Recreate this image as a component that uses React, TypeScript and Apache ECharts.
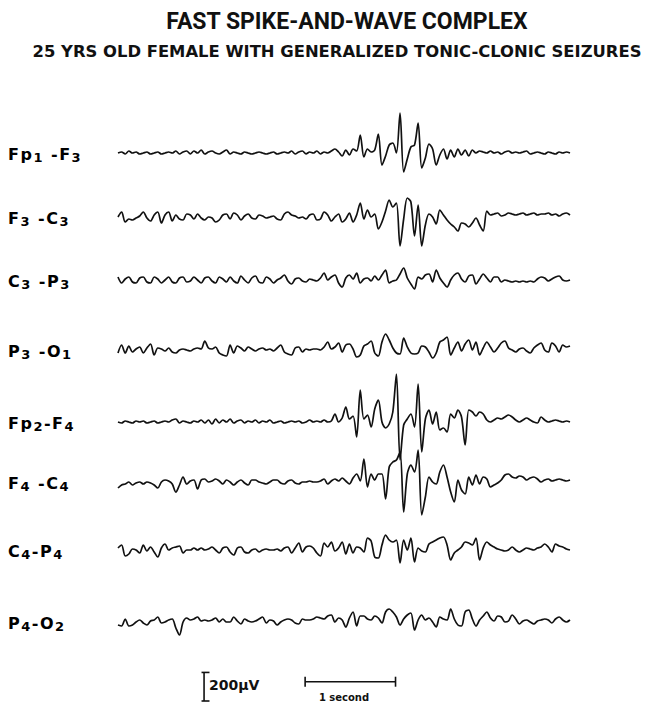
import React, { useEffect, useRef } from "react";
import * as echarts from "echarts";

// ---------------- data (µV, positive = upward pen deflection) ----------------
const TITLE = "FAST SPIKE-AND-WAVE COMPLEX";
const SUBTITLE = "25 YRS OLD FEMALE WITH GENERALIZED TONIC-CLONIC SEIZURES";
const CHANNELS = ["Fp1-F3", "F3-C3", "C3-P3", "P3-O1", "Fp2-F4", "F4-C4", "C4-P4", "P4-O2"];
// label text split in [text, isSubscript]
const CHANNEL_LABEL_PARTS: [string, number][][] = [
  [["Fp", 0], ["1", 1], [" -F", 0], ["3", 1]],
  [["F", 0], ["3", 1], [" -C", 0], ["3", 1]],
  [["C", 0], ["3", 1], [" -P", 0], ["3", 1]],
  [["P", 0], ["3", 1], [" -O", 0], ["1", 1]],
  [["Fp", 0], ["2", 1], ["-F", 0], ["4", 1]],
  [["F", 0], ["4", 1], [" -C", 0], ["4", 1]],
  [["C", 0], ["4", 1], ["-P", 0], ["4", 1]],
  [["P", 0], ["4", 1], ["-O", 0], ["2", 1]],
];
const SAMPLE_STEP_S = 0.04; // one sample every 40 ms, 5 s of record
const RECORD_S = 5;

const FP1_F3 = [
  0, 7, -7, 14, 0, 7, -7, 0, 7, -7,
  0, 7, -7, 0, 7, 0, 14, -7, 7, 14,
  -7, 14, 0, 21, -7, 7, 14, 0, -7, 7,
  21, -7, 7, 0, -7, 7, 0, -7, 0, 7,
  0, -7, 0, 7, -7, 0, 7, 0, 14, -7,
  7, 14, -7, 7, 0, 14, -7, 7, 0, 14,
  28, 7, -21, 21, -14, 28, 14, 126, -28, 28,
  7, 21, 133, -84, -21, 56, 70, 0, 280, -133,
  -42, 42, 56, 210, -105, -35, 63, 28, -84, -14,
  28, -42, 21, -28, 28, -14, 21, -21, 21, 0,
  14, 7, 0, 14, 0, 7, -7, 7, 14, 0,
  7, 0, 7, 14, -7, 0, 7, 0, -7, 7,
  0, -7, 7, 0, 7, 0,
];
const F3_C3 = [
  0, 35, -35, -14, -21, -7, 7, 35, -7, -28,
  14, 35, -42, 14, 35, -28, 14, -14, -21, 21,
  14, -14, 21, -7, -21, 0, -7, -35, -21, 14,
  21, -14, 28, 14, -21, 7, 21, -7, -14, 14,
  7, -7, 0, 7, -14, -21, 21, 35, 14, 7,
  -7, 0, -14, 14, 21, -21, -14, 35, 14, -28,
  0, 21, -35, -14, 28, -35, 14, 98, -14, 49,
  0, 21, -84, -35, 42, 119, 70, 98, -203, -14,
  133, 105, -133, 84, -203, -56, 21, 0, -49, 49,
  14, -21, -49, -70, -98, -42, -49, -70, -42, -7,
  -56, -98, 42, 14, 21, 28, 7, 14, 28, 21,
  14, 21, 28, 14, 21, 28, 14, 21, 21, 28,
  14, 21, 7, 21, 28, 14,
];
const C3_P3 = [
  21, -21, 7, 21, -14, -21, 14, 21, -14, -21,
  21, 7, -21, 0, 21, -14, -21, 14, 21, -14,
  -7, 21, 0, -21, 14, 21, -7, -21, 21, 7,
  -14, 21, -7, -21, 28, 0, -21, 14, 28, -14,
  -21, 21, 7, -21, 0, 14, 35, -7, -28, 7,
  14, -7, -14, 7, 0, -7, 14, 49, 0, 21,
  35, -21, -49, 14, 35, 7, 49, -21, 7, 14,
  -7, 28, 0, 35, 70, -21, -7, 0, 42, 84,
  14, -28, -63, 21, 7, 35, 42, -14, 70, 14,
  -21, -49, 0, 35, 49, 7, -14, 28, 35, -28,
  7, 42, 14, -14, 21, 21, -14, 0, -7, -14,
  -7, -14, -7, -14, -7, -14, 7, 21, 14, -7,
  7, 21, 28, 0, -7, 0,
];
const P3_O1 = [
  -21, 35, -21, 28, -14, 7, 21, -21, 14, 42,
  -35, 14, 7, -7, 14, -14, -21, 0, 7, 0,
  -7, 7, 14, 7, 63, 14, 7, 21, -21, -35,
  -42, 35, -21, 28, 14, -7, 21, 7, -7, 7,
  14, 0, 7, -7, 14, 35, -14, -28, -35, 14,
  21, -14, 7, 0, 7, 7, 0, 21, 56, 7,
  21, 49, -14, 35, 42, 7, -49, -35, 28, 42,
  63, -21, -42, 56, 112, 70, 14, -21, -28, 84,
  21, -21, -28, -21, 28, 21, -14, -56, -21, 56,
  70, 91, -35, 14, 56, -7, 42, 70, 0, 56,
  -35, 14, 56, 21, -14, 14, 49, 63, 14, 0,
  -14, 7, 14, -7, -21, 14, 35, 49, 0, -14,
  49, 28, -14, 35, 21, 28,
];
const FP2_F4 = [
  0, -7, 7, 0, -7, 7, 0, 7, -7, 0,
  7, -7, 0, 7, 0, 14, 21, -7, 7, 0,
  -7, 7, 0, 14, -7, 14, -14, 21, -7, 14,
  0, 21, -7, 7, 14, -7, 7, 0, 14, -7,
  7, 0, 14, -7, 0, 7, -7, 0, 7, 0,
  7, -7, 0, 14, 0, 7, 0, 14, 0, 7,
  56, 0, 28, 105, 21, 42, -105, 224, 21, 49,
  -35, 91, 154, 0, -42, -14, 70, 336, -266, -21,
  21, 56, -35, 266, -210, 21, 84, -14, 70, -56,
  -42, -70, 56, 28, 84, 35, -161, 84, 70, 42,
  70, 56, 14, 0, 14, 28, 21, 35, 49, 35,
  14, 0, 14, 28, 14, 0, -7, 35, 14, 0,
  7, 14, 7, 0, 7, 0,
];
const F4_C4 = [
  -42, -21, -14, 0, -21, -7, 0, -14, 0, -7,
  -21, -42, 0, 14, 7, -14, -70, -21, 35, -14,
  7, 14, -49, 14, 21, 0, 7, 21, 7, -14,
  14, 0, -21, 0, 14, -7, -21, 14, 14, 0,
  -7, -14, 0, 14, 14, -7, -14, 7, 14, -7,
  -14, 0, 0, 7, 0, 0, 7, 21, -14, 7,
  21, 7, 28, 7, -14, 28, 56, 7, 161, -35,
  56, 14, 56, 56, -119, 105, 140, 154, 210, -210,
  56, 119, 70, 224, -231, -105, 35, 0, -14, 70,
  119, 35, -70, -140, 14, -56, -84, 35, -21, 49,
  -14, 35, 21, -35, -21, -7, 14, 49, 56, 35,
  28, 42, 35, 14, 28, 35, 21, 0, 14, 21,
  7, 14, 21, 14, 7, 14,
];
const C4_P4 = [
  14, 35, -42, -28, 7, 0, -21, 35, -7, 21,
  -14, -49, 14, 42, 0, 14, 21, 28, -21, 0,
  0, 14, 0, 14, 0, 7, 21, 0, -21, 14,
  21, -14, -35, 14, 21, -14, -21, 0, 7, -14,
  0, 7, 0, 0, 7, -7, 14, 21, -21, 14,
  49, -14, 21, 28, 14, -21, -42, 49, 21, 56,
  -7, 14, 56, -28, 42, -21, 21, 14, -14, 84,
  63, -49, -56, 35, 105, 70, 56, 70, -91, 70,
  0, 84, -84, 14, -7, -14, 42, 56, 70, 84,
  91, 35, -70, -21, 0, 21, 56, 49, 35, 84,
  -70, 14, 56, 35, 21, 7, 0, -7, 0, 21,
  0, -14, 0, 14, 7, 0, 14, 21, 42, 21,
  -14, 42, 28, 21, 7, 0,
];
const P4_O2 = [
  -21, -28, 21, -28, -21, 0, 14, -7, -21, 7,
  14, 35, -7, 0, 14, 21, -42, -91, 0, 28,
  14, 21, 35, 7, 14, 7, 14, 28, 0, 21,
  0, 0, 35, 7, -14, 21, 7, 0, 7, 21,
  35, -7, 14, 7, -21, 0, 14, 21, 14, -7,
  -14, 21, 14, 14, 21, 35, 28, 21, 42, 49,
  0, 28, 14, -35, 28, 70, -28, 42, 42, 21,
  14, 42, 28, -7, 70, 91, 70, 35, -21, 21,
  49, 63, -56, 14, 49, 14, 28, 0, -35, 35,
  21, 14, 91, 21, -21, -28, 70, 84, 21, -28,
  14, 42, 70, 28, 7, 42, 35, 0, 7, 49,
  21, -14, 7, 14, 0, -14, 7, 14, 21, 14,
  -7, 21, 35, 14, 0, 14,
];
const TRACES = [FP1_F3, F3_C3, C3_P3, P3_O1, FP2_F4, F4_C4, C4_P4, P4_O2];

// calibration marks
const CAL_UV = 200;
const CAL_UV_LABEL = "200µV";
const CAL_SEC = 1;
const CAL_SEC_LABEL = "1 second";

// ---------------- layout (pixels) ----------------
const W = 646;
const H = 704;
const PLOT_LEFT = 118;
const PLOT_WIDTH = 452;
const TRACE_BASE_Y = [153, 217, 280, 350, 422, 482, 550, 622];
const UV_PER_PX = 7;
const GRID_H = 100;
const CAL_GRID_TOP = 660;
const CAL_ZERO_Y = 701; // pixel row of 0 µV in calibration grid
const CAL_UV_T = 0.952; // time position of vertical bar
const CAL_SEC_T0 = 2.07;
const CAL_SEC_UV = 135;
const INK = "#111";
const FONT = "DejaVu Sans";

function labelRich(parts: [string, number][]) {
  let s = "";
  for (const [txt, sub] of parts) {
    for (const ch of txt) s += `{${sub ? "s" : "m"}|${ch}}`;
  }
  return s;
}

export default function App() {
  const ref = useRef<HTMLDivElement>(null);
  useEffect(() => {
    if (!ref.current) return;
    const chart = echarts.init(ref.current, undefined, { renderer: "svg" });

    const grids: any[] = [];
    const xAxes: any[] = [];
    const yAxes: any[] = [];
    const series: any[] = [];
    const half = (GRID_H / 2) * UV_PER_PX;
    TRACES.forEach((vals, i) => {
      grids.push({ left: PLOT_LEFT, width: PLOT_WIDTH, top: TRACE_BASE_Y[i] - GRID_H / 2, height: GRID_H });
      xAxes.push({ type: "value", gridIndex: i, min: 0, max: RECORD_S, show: false });
      yAxes.push({ type: "value", gridIndex: i, min: -half, max: half, show: false });
      series.push({
        type: "line",
        name: CHANNELS[i],
        xAxisIndex: i,
        yAxisIndex: i,
        data: vals.map((v, k) => [k * SAMPLE_STEP_S, v]),
        symbol: "none",
        smooth: 0.3,
        clip: false,
        lineStyle: { color: INK, width: 1.7 },
        silent: true,
      });
    });
    // calibration grid (fits inside the canvas)
    const ci = TRACES.length;
    const calH = H - CAL_GRID_TOP;
    const calMin = -(H - CAL_ZERO_Y) * UV_PER_PX;
    grids.push({ left: PLOT_LEFT, width: PLOT_WIDTH, top: CAL_GRID_TOP, height: calH });
    xAxes.push({ type: "value", gridIndex: ci, min: 0, max: RECORD_S, show: false });
    yAxes.push({ type: "value", gridIndex: ci, min: calMin, max: calMin + calH * UV_PER_PX, show: false });
    const tick = 35;
    const segs: number[][][] = [
      [[CAL_UV_T - 0.028, CAL_UV], [CAL_UV_T + 0.06, CAL_UV]],
      [[CAL_UV_T, CAL_UV], [CAL_UV_T, 0]],
      [[CAL_UV_T - 0.028, 0], [CAL_UV_T + 0.06, 0]],
      [[CAL_SEC_T0, CAL_SEC_UV], [CAL_SEC_T0 + CAL_SEC, CAL_SEC_UV]],
      [[CAL_SEC_T0, CAL_SEC_UV - tick], [CAL_SEC_T0, CAL_SEC_UV + tick]],
      [[CAL_SEC_T0 + CAL_SEC, CAL_SEC_UV - tick], [CAL_SEC_T0 + CAL_SEC, CAL_SEC_UV + tick]],
    ];
    segs.forEach((d) =>
      series.push({
        type: "line",
        xAxisIndex: ci,
        yAxisIndex: ci,
        data: d,
        symbol: "none",
        clip: false,
        silent: true,
        lineStyle: { color: INK, width: 1.6 },
      })
    );

    const graphics: any[] = [
      {
        type: "text",
        x: 347,
        y: 21,
        style: { text: TITLE, fill: INK, font: `bold 23px Roboto`, align: "center", verticalAlign: "middle" },
      },
      {
        type: "text",
        x: 337,
        y: 51,
        style: { text: SUBTITLE, fill: INK, font: `bold 16.4px ${FONT}`, align: "center", verticalAlign: "middle" },
      },
      {
        type: "text",
        x: 209,
        y: 685,
        style: { text: CAL_UV_LABEL, fill: INK, font: `bold 14px ${FONT}`, align: "left", verticalAlign: "middle" },
      },
      {
        type: "text",
        x: 344,
        y: 697,
        style: { text: CAL_SEC_LABEL, fill: INK, font: `bold 10px ${FONT}`, align: "center", verticalAlign: "middle" },
      },
    ];
    CHANNEL_LABEL_PARTS.forEach((parts, i) => {
      graphics.push({
        type: "text",
        x: 8,
        y: TRACE_BASE_Y[i] + 1,
        style: {
          text: labelRich(parts),
          align: "left",
          verticalAlign: "middle",
          rich: {
            m: { fontFamily: FONT, fontWeight: "bold", fontSize: 16, lineHeight: 18, color: INK, padding: [0, 1.5, 0, 0] },
            s: { fontFamily: FONT, fontWeight: "bold", fontSize: 13, lineHeight: 13, color: INK, padding: [6, 1.5, 0, 0] },
          },
        },
      });
    });

    chart.setOption({
      animation: false,
      backgroundColor: "#fff",
      grid: grids,
      xAxis: xAxes,
      yAxis: yAxes,
      series,
      graphic: graphics,
    });
    return () => chart.dispose();
  }, []);
  return <div ref={ref} style={{ position: "absolute", left: 0, top: 0, width: W, height: H }} />;
}
